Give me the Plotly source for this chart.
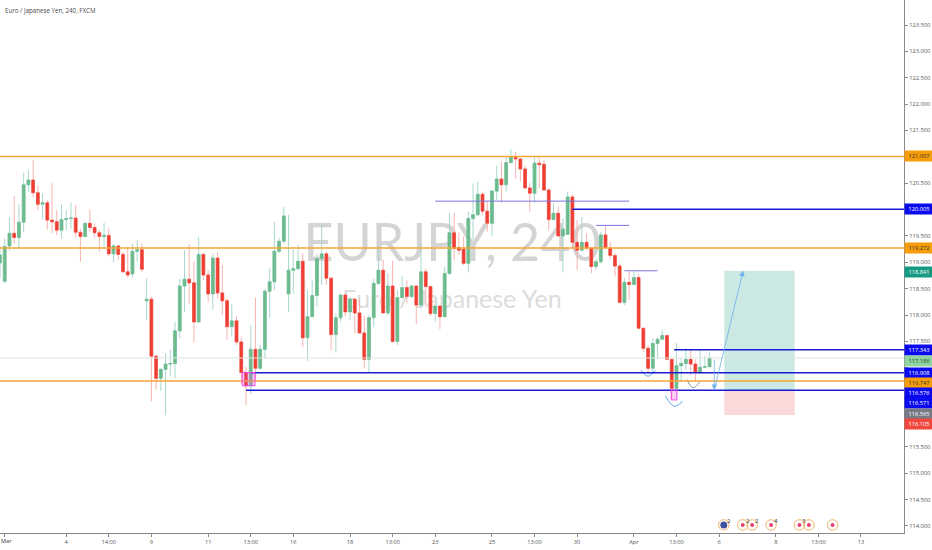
import plotly.graph_objects as go

title = "Euro / Japanese Yen, 240, FXCM"

opens = [118.99, 118.64, 119.31, 119.55, 119.47, 119.76, 120.47, 120.56, 120.32, 120.10, 120.13, 119.80, 119.77, 119.61, 119.81, 119.83, 119.84, 119.57, 119.49, 119.74, 119.66, 119.56, 119.49, 119.51, 119.16, 119.31, 119.15, 118.82, 118.78, 119.21, 119.24,
         118.27, 118.30, 117.22, 116.80, 116.97, 117.07, 117.08, 117.70, 118.55, 118.68, 118.61, 117.87, 119.15, 118.76, 118.40, 119.08, 118.42, 118.27,
         117.78, 117.89, 117.49, 116.91, 116.66, 117.35, 116.99, 117.35, 118.45, 118.63, 119.21, 119.40, 118.40, 118.85, 118.88, 119.02, 117.57, 117.97, 118.37, 119.07, 119.16, 118.70, 117.63, 117.95, 118.38, 118.06, 118.30, 118.04, 117.66, 117.16, 117.95, 118.60, 118.85, 118.04, 118.55, 117.50, 118.33, 118.52, 118.35, 118.55, 118.19, 118.82, 118.54, 118.03, 118.17, 117.97, 118.79, 119.56,
         119.28, 119.25, 118.98, 119.83, 119.90, 120.29, 119.97, 119.74, 120.35, 120.58, 120.47, 120.89, 120.99, 120.96, 120.77, 120.41, 120.31, 120.88, 120.86, 120.37, 119.81, 119.93, 119.50, 119.53, 120.24, 119.38, 119.23, 119.38, 119.27, 118.92, 119.01, 119.52, 119.27, 119.13, 118.93, 118.24, 118.62, 118.58,
         118.71, 117.75, 117.37, 116.99, 117.46, 117.54, 117.61, 117.16, 116.61, 117.04, 117.08, 117.16, 117.07, 116.91, 117.01, 117.02]
highs = [119.30, 119.45, 119.85, 120.26, 120.10, 120.70, 120.75, 120.94, 120.46, 120.31, 120.18, 120.50, 119.99, 120.10, 119.99, 120.13, 120.09, 119.64, 119.75, 120.00, 119.74, 119.61, 119.75, 119.66, 119.35, 119.31, 119.20, 119.29, 119.35, 119.42, 119.36,
         118.70, 118.35, 117.24, 116.99, 117.27, 117.34, 117.87, 118.68, 119.23, 119.35, 119.01, 119.48, 119.18, 118.85, 119.16, 119.20, 118.95, 118.32,
         118.20, 117.98, 117.59, 117.02, 117.81, 118.33, 117.43, 118.50, 118.88, 119.77, 119.46, 120.05, 119.90, 119.24, 119.33, 119.17, 118.47, 118.65, 119.17, 119.71, 119.20, 118.72, 118.03, 118.41, 118.41, 118.35, 118.33, 118.30, 117.98, 118.00, 118.69, 119.33, 119.05, 118.79, 119.03, 118.47, 118.74, 118.66, 118.57, 118.57, 119.36, 118.88, 118.54, 118.19, 118.19, 118.92, 119.94, 119.93,
         119.57, 119.49, 119.96, 120.50, 120.53, 120.34, 120.15, 120.37, 120.83, 120.91, 121.02, 121.15, 121.10, 120.97, 120.83, 120.50, 121.00, 120.98, 120.94, 120.40, 120.12, 120.05, 119.83, 120.34, 120.28, 119.80, 119.86, 119.55, 119.28, 119.07, 119.57, 119.71, 119.39, 119.17, 118.98, 118.70, 118.82, 118.83,
         118.78, 117.76, 117.43, 117.56, 117.58, 117.72, 117.63, 117.18, 117.47, 117.18, 117.37, 117.34, 117.16, 117.34, 117.22, 117.29]
lows = [118.70, 118.60, 119.22, 119.35, 119.26, 119.58, 120.34, 120.23, 119.99, 119.81, 119.62, 119.55, 119.52, 119.45, 119.61, 119.64, 119.47, 119.01, 119.47, 119.58, 119.47, 119.20, 119.26, 119.11, 119.00, 119.04, 118.80, 118.71, 118.71, 119.01, 118.82,
        117.90, 116.36, 116.58, 116.56, 116.10, 116.84, 116.80, 117.56, 118.06, 118.22, 117.48, 117.85, 118.66, 118.25, 118.10, 118.32, 118.00, 117.53,
        117.59, 117.43, 116.70, 116.29, 116.50, 116.77, 116.96, 117.18, 117.94, 118.47, 119.17, 119.36, 118.06, 118.41, 118.85, 117.39, 117.13, 117.96, 118.16, 118.57, 118.57, 117.33, 117.29, 117.87, 117.97, 117.90, 117.65, 117.64, 116.99, 116.91, 117.77, 118.57, 118.03, 118.00, 117.47, 117.43, 118.33, 118.22, 118.32, 117.83, 118.13, 118.16, 117.98, 117.87, 117.73, 117.96, 118.76, 119.04,
        119.14, 118.95, 118.81, 119.39, 119.88, 119.90, 119.58, 119.50, 120.18, 120.12, 120.34, 120.88, 120.59, 120.53, 120.41, 119.96, 120.12, 120.40, 120.37, 119.61, 119.80, 119.50, 118.81, 119.52, 119.26, 118.85, 119.20, 119.23, 118.79, 118.85, 118.98, 119.26, 119.07, 118.73, 118.22, 118.19, 118.28, 118.57,
        117.73, 117.30, 116.88, 116.92, 117.18, 117.53, 117.15, 116.39, 116.59, 116.74, 116.96, 116.86, 116.74, 116.88, 116.99, 117.01]
closes = [119.14, 119.30, 119.55, 119.47, 119.76, 120.47, 120.56, 120.32, 120.10, 120.13, 119.80, 119.77, 119.61, 119.81, 119.83, 119.84, 119.57, 119.49, 119.74, 119.66, 119.56, 119.49, 119.51, 119.16, 119.31, 119.15, 118.82, 118.76, 119.21, 119.24, 118.87,
          118.30, 117.22, 116.80, 116.97, 117.07, 117.08, 117.70, 118.55, 118.68, 118.61, 117.87, 119.15, 118.76, 118.40, 119.08, 118.42, 118.27, 117.78,
          117.89, 117.49, 116.91, 116.66, 117.35, 116.99, 117.35, 118.45, 118.63, 119.21, 119.40, 119.88, 118.85, 118.88, 119.02, 117.57, 117.97, 118.37, 119.07, 119.16, 118.70, 117.63, 117.95, 118.38, 118.06, 118.30, 118.04, 117.66, 117.16, 117.95, 118.60, 118.85, 118.04, 118.55, 117.50, 118.33, 118.52, 118.35, 118.55, 118.19, 118.82, 118.54, 118.03, 118.17, 117.97, 118.79, 119.56, 119.26,
          119.23, 118.98, 119.83, 119.90, 120.29, 119.97, 119.74, 120.35, 120.58, 120.47, 120.89, 121.00, 120.96, 120.77, 120.41, 120.31, 120.88, 120.85, 120.37, 119.81, 119.93, 119.50, 119.63, 120.24, 119.38, 119.23, 119.38, 119.27, 118.92, 119.01, 119.52, 119.28, 119.13, 118.93, 118.24, 118.62, 118.58, 118.71,
          117.75, 117.37, 116.99, 117.46, 117.54, 117.61, 117.16, 116.61, 117.04, 117.08, 117.16, 117.07, 116.91, 117.01, 117.02, 117.18]
bars = list(range(-1, len(opens) - 1))

# "Mar" would be dropped by plotly at the left edge, it is added as an annotation below
x_labels = ["", "4", "14:00", "9", "11", "13:00", "16", "18", "13:00", "23", "25", "13:00", "30", "Apr", "13:00", "6", "8", "13:00", "13"]
x_label_bars = [0, 13, 22, 31, 43, 52, 61, 73, 82, 91, 103, 112, 121, 133, 142, 151, 163, 172, 181]
price_ticks = [114.0, 114.5, 115.0, 115.5, 116.0, 116.5, 117.0, 117.5, 118.0, 118.5, 119.0, 119.5, 120.0, 120.5, 121.0, 121.5, 122.0, 122.5, 123.0, 123.5]
# labels that sit behind a price tag are left blank
price_labels = ["114.000", "114.500", "115.000", "115.500", "", "", "", "117.500", "118.000", "118.500", "119.000", "119.500", "", "120.500", "", "121.500", "122.000", "122.500", "123.000", "123.500"]

# levels drawn on the chart: price, first bar, last bar
level_orange = [121.007, 119.272, 116.747]
level_blue = [120.005, 117.343, 116.908, 116.576]
level_blue_from = [120, 141.5, 52, 51]
level_purple = [120.16, 119.70, 118.84]
level_purple_from = [91, 125, 131]
level_purple_to = [132, 132, 138]
last_price = 117.186

# right hand price tags: value, background, text colour, shift in px to avoid overlap
tag_values = [121.007, 120.005, 119.272, 118.841, 117.343, 117.186, 116.908, 116.747, 116.576, 116.571, 116.565, 116.105]
tag_colors = ["#f59d0b", "#0a0aef", "#f59d0b", "#159a83", "#0a0aef", "#8fd3a0", "#0a0aef", "#f59d0b", "#0a0aef", "#0a0aef", "#787b86", "#f2473f"]
tag_text = ["#333333", "#ffffff", "#333333", "#ffffff", "#ffffff", "#1c4a2c", "#ffffff", "#333333", "#ffffff", "#ffffff", "#ffffff", "#ffffff"]
tag_shift = [0, 0, 0, -1, 0, -3, 0, -2, -3, -13, -23, -9]

# long position box
entry = 116.576
target = 118.841
stop = 116.105
box_from = 152.1
box_to = 167

# events at the bottom of the chart
event_bars = [152, 156, 158, 162, 168, 170, 175]
event_price = 114.02
event_counts = ["2", "2", "2", "4", "3", "", ""]

X_MIN = -1
X_MAX = 190.1
Y_MIN = 113.867
Y_MAX = 123.974

GREEN = "#6dbb8d"
RED = "#ee3e33"
TICK_SIZE = 5.7

fig = go.Figure()

# wicks first, paler than the bodies
fig.add_trace(go.Candlestick(
    x=bars, open=opens, high=highs, low=lows, close=closes,
    increasing=dict(line=dict(color="#a8d8cc", width=1), fillcolor="rgba(0,0,0,0)"),
    decreasing=dict(line=dict(color="#f6b4b0", width=1), fillcolor="rgba(0,0,0,0)"),
    whiskerwidth=0, showlegend=False, hoverinfo="skip",
))
# bodies without wicks
fig.add_trace(go.Candlestick(
    x=bars, open=opens, close=closes,
    high=[max(o, c) for o, c in zip(opens, closes)],
    low=[min(o, c) for o, c in zip(opens, closes)],
    increasing=dict(line=dict(color=GREEN, width=0.5), fillcolor=GREEN),
    decreasing=dict(line=dict(color=RED, width=0.5), fillcolor=RED),
    whiskerwidth=0, showlegend=False,
))

# arcs under the swing lows
arc_x = [[134.5, 136, 137.5], [139.7, 141.5, 143.3], [144.2, 145.5, 147]]
arc_y = [[116.95, 116.84, 116.95], [116.46, 116.27, 116.36], [116.78, 116.62, 116.74]]
arc_c = ["#5aa9e6", "#5aa9e6", "#8a95a5"]
for ax_, ay_, c_ in zip(arc_x, arc_y, arc_c):
    fig.add_trace(go.Scatter(x=ax_, y=ay_, mode="lines", line=dict(color=c_, width=1, shape="spline"),
                             showlegend=False, hoverinfo="skip"))

# event badges
fig.add_trace(go.Scatter(x=event_bars, y=[event_price] * len(event_bars), mode="markers",
                         marker=dict(size=10.5, color="rgba(255,255,255,0)", line=dict(color="#f2b56b", width=1)),
                         showlegend=False, hoverinfo="skip", cliponaxis=False))
fig.add_trace(go.Scatter(x=event_bars[1:], y=[event_price] * (len(event_bars) - 1), mode="markers",
                         marker=dict(size=4, color="#e2446c"), showlegend=False, hoverinfo="skip"))
fig.add_trace(go.Scatter(x=event_bars[:1], y=[event_price], mode="markers",
                         marker=dict(size=7, color="#3f4fa0"), showlegend=False, hoverinfo="skip"))

shapes = []
# watermark sits under the candles
shapes.append(dict(type="rect", xref="paper", yref="paper", x0=0.2, x1=0.8, y0=0.5, y1=0.6, layer="below",
                   line=dict(width=0), fillcolor="rgba(0,0,0,0)",
                   label=dict(text="EURJPY, 240", textposition="middle center",
                              font=dict(family="Liberation Sans Narrow, Lato", size=52, color="#d4d4d4"))))
shapes.append(dict(type="rect", xref="paper", yref="paper", x0=0.2, x1=0.8, y0=0.41, y1=0.47, layer="below",
                   line=dict(width=0), fillcolor="rgba(0,0,0,0)",
                   label=dict(text="Euro / Japanese Yen", textposition="middle center",
                              font=dict(family="Lato", size=25, color="#dcdcdc"))))

shapes.append(dict(type="rect", x0=box_from, x1=box_to, y0=entry, y1=target, line=dict(width=0), fillcolor="#cbe8e3"))
shapes.append(dict(type="rect", x0=box_from, x1=box_to, y0=stop, y1=entry, line=dict(width=0), fillcolor="#fbd9d9"))

shapes.append(dict(type="line", x0=X_MIN, x1=X_MAX, y0=last_price, y1=last_price, line=dict(color="#dbe5de", width=1)))
for p in level_orange:
    shapes.append(dict(type="line", x0=X_MIN, x1=X_MAX, y0=p, y1=p, line=dict(color="#f5a733", width=1.5)))
for p, b in zip(level_blue, level_blue_from):
    shapes.append(dict(type="line", x0=b, x1=X_MAX, y0=p, y1=p, line=dict(color="#1a1ad6", width=1.5)))
for p, b0, b1 in zip(level_purple, level_purple_from, level_purple_to):
    shapes.append(dict(type="line", x0=b0, x1=b1, y0=p, y1=p, line=dict(color="#7a74e0", width=1)))

# magenta highlights on the two rejection candles
shapes.append(dict(type="rect", x0=50.2, x1=52.9, y0=116.66, y1=116.91,
                   line=dict(color="#ee44e6", width=1), fillcolor="rgba(238,68,230,0.25)"))
shapes.append(dict(type="rect", x0=140.9, x1=142.1, y0=116.39, y1=116.58,
                   line=dict(color="#ee44e6", width=1), fillcolor="rgba(238,68,230,0.25)"))

annotations = []
annotations.append(dict(text=title, xref="paper", yref="paper", x=0, y=1, xanchor="left", yanchor="top",
                        xshift=3, yshift=-4, showarrow=False,
                        font=dict(family="Open Sans", size=6.2, color="#4a4a4a")))
annotations.append(dict(text="Mar", xref="paper", yref="paper", x=0, y=0, xanchor="left", yanchor="top",
                        yshift=-3, showarrow=False, borderpad=0,
                        font=dict(family="Open Sans", size=TICK_SIZE, color="#444444")))
for v, bg, tc, s in zip(tag_values, tag_colors, tag_text, tag_shift):
    annotations.append(dict(text="%.3f" % v, xref="paper", yref="y", x=1, y=v, xanchor="left", yanchor="middle",
                            yshift=s, showarrow=False, bgcolor=bg, width=28, height=10, borderpad=0,
                            font=dict(family="Open Sans", size=TICK_SIZE, color=tc)))
for b, n in zip(event_bars, event_counts):
    if n:
        annotations.append(dict(text=n, x=b, y=event_price, xanchor="center", yanchor="middle", xshift=5, yshift=4,
                                showarrow=False, font=dict(family="Open Sans", size=6, color="#333333")))

# trade path arrows
annotations.append(dict(x=150, y=116.576, ax=150, ay=117.186, xref="x", yref="y", axref="x", ayref="y", text="",
                        arrowcolor="#6db3e8", arrowwidth=0.8, arrowhead=2, arrowsize=1.4))
annotations.append(dict(x=156.1, y=118.841, ax=150, ay=116.576, xref="x", yref="y", axref="x", ayref="y", text="",
                        arrowcolor="#6db3e8", arrowwidth=0.8, arrowhead=2, arrowsize=1.4))

fig.update_layout(
    width=932, height=550,
    margin=dict(l=0, r=28, t=0, b=17),
    paper_bgcolor="white", plot_bgcolor="white",
    showlegend=False, boxgap=0.15,
    shapes=shapes, annotations=annotations,
    font=dict(family="Open Sans", size=8, color="#555555"),
)
fig.update_xaxes(range=[X_MIN, X_MAX], tickvals=x_label_bars, ticktext=x_labels, tickangle=0, automargin=False,
                 showgrid=False, zeroline=False, rangeslider=dict(visible=False),
                 showline=True, linecolor="#8a8a8a", linewidth=1, ticks="outside", ticklen=3, tickcolor="#8a8a8a",
                 tickfont=dict(size=TICK_SIZE, color="#555555"))
fig.update_yaxes(range=[Y_MIN, Y_MAX], side="right", tickvals=price_ticks, ticktext=price_labels, automargin=False,
                 showgrid=False, zeroline=False,
                 showline=True, linecolor="#8a8a8a", linewidth=1, ticks="outside", ticklen=3, tickcolor="#8a8a8a",
                 tickfont=dict(size=TICK_SIZE, color="#555555"))

# the page's default body margin would push the figure out of the window
fig.write_html("out.html", config=dict(displayModeBar=False), post_script="document.body.style.margin = '0';")
